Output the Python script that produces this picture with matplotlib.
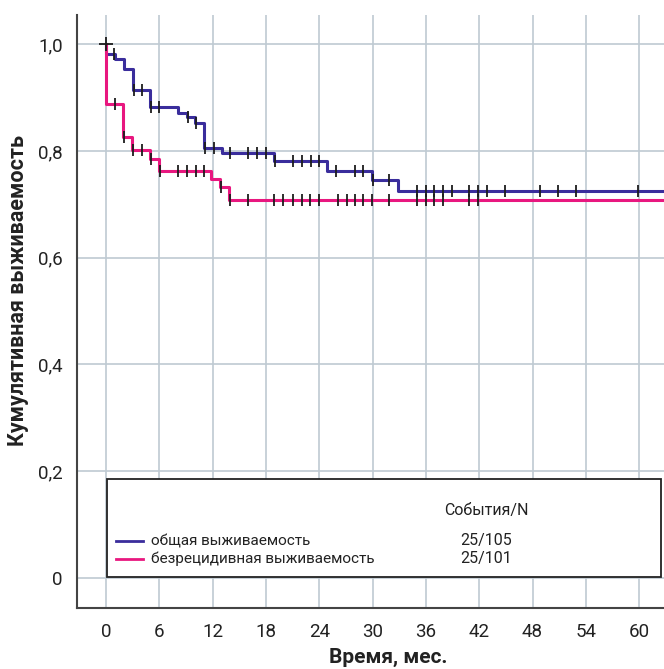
import numpy as np
import matplotlib.pyplot as plt
from matplotlib.patches import Rectangle
from matplotlib.lines import Line2D

plt.rcParams['font.family'] = ['Roboto', 'DejaVu Sans']

# overall survival: event times (months) and survival after each event
os_times = [0.0, 1.0, 2.0, 3.05, 4.95, 8.1, 9.15, 10.05, 11.05, 13.0, 18.9, 24.9, 29.9, 32.9]
os_surv = [0.981, 0.972, 0.953, 0.914, 0.883, 0.872, 0.863, 0.852, 0.805, 0.796, 0.781, 0.763, 0.746, 0.725]
os_cens = [0.9, 3.15, 4.0, 5.05, 6.0, 9.25, 10.15, 11.15, 12.1, 13.9, 16.0, 17.0, 18.0,
           19.0, 21.1, 22.1, 23.1, 24.0, 25.9, 28.0, 28.9, 30.0, 31.9, 35.0, 36.0, 36.9,
           37.9, 38.9, 40.9, 41.9, 42.9, 44.9, 48.9, 50.9, 52.9, 59.9]

# relapse-free survival
rfs_times = [0.0, 1.9, 2.9, 5.0, 6.0, 11.8, 12.8, 13.8]
rfs_surv = [0.889, 0.827, 0.802, 0.786, 0.762, 0.747, 0.733, 0.708]
rfs_cens = [1.0, 2.0, 3.0, 4.0, 5.05, 6.1, 8.1, 9.1, 10.1, 11.05, 12.9, 13.9, 16.0,
            18.9, 19.9, 21.0, 22.1, 23.0, 24.0, 26.1, 27.1, 28.0, 28.9, 29.9, 31.9,
            35.0, 36.0, 36.9, 37.9, 40.9, 41.9]

x_end = 63
x_ticks = list(range(0, 61, 6))
y_ticks = [0, 0.2, 0.4, 0.6, 0.8, 1.0]
y_labels = ['0', '0,2', '0,4', '0,6', '0,8', '1,0']

legend_names = ['общая выживаемость', 'безрецидивная выживаемость']
legend_counts = ['25/105', '25/101']
legend_header = 'События/N'

blue = '#3a2d9c'
pink = '#e8177f'
ink = '#222222'

W, H = 664, 669


def px(x, y):
    return x / W, 1 - y / H


def km_curve(times, surv):
    xs = np.r_[0.0, times, x_end]
    ys = np.r_[1.0, surv, surv[-1]]
    return xs, ys


def value_at(times, surv, t):
    i = np.searchsorted(times, t, side='right')
    return np.r_[1.0, surv][i]


fig = plt.figure(figsize=(W / 100, H / 100), dpi=100)
ax = fig.add_axes([76.7 / W, 1 - 607.7 / H, (W - 76.7) / W, (607.7 - 15) / H])

for times, surv, cens, col in [(os_times, os_surv, os_cens, blue),
                               (rfs_times, rfs_surv, rfs_cens, pink)]:
    xs, ys = km_curve(times, surv)
    ax.plot(xs, ys, drawstyle='steps-post', color=col, lw=2.2, zorder=3)
    cy = [value_at(times, surv, t) for t in cens]
    ax.plot(cens, cy, ls='none', marker='|', ms=8, mew=1.3, color='#1c1c1c', zorder=4)

ax.plot([0], [1.0], ls='none', marker='+', ms=10, mew=1.3, color='#1c1c1c', zorder=4)

ax.set_xlim(-3.3, 62.8)
ax.set_ylim(-0.056, 1.055)
ax.set_xticks(x_ticks)
ax.set_yticks(y_ticks)
ax.set_yticklabels(y_labels)
ax.grid(True, color='#bfcad2', lw=1.2)
ax.set_axisbelow(True)
ax.tick_params(length=0, labelsize=13.5, colors=ink)
ax.tick_params(axis='x', pad=11)
ax.tick_params(axis='y', pad=10)
for s in ['top', 'right']:
    ax.spines[s].set_visible(False)
for s in ['left', 'bottom']:
    ax.spines[s].set_color('#444444')
    ax.spines[s].set_linewidth(1.5)

fig.text(*px(388, 657), 'Время, мес.', ha='center', va='center',
         fontsize=15, fontweight='bold', color=ink)
fig.text(*px(18, 291), 'Кумулятивная выживаемость', ha='center', va='center',
         rotation=90, fontsize=15.5, fontweight='bold', color=ink)

# legend box
x0, y0 = px(106.7, 577)
x1, y1 = px(661, 479)
ax.add_patch(Rectangle((x0, y0), x1 - x0, y1 - y0, transform=fig.transFigure,
                       facecolor='white', edgecolor=ink, lw=1.3, zorder=6,
                       clip_on=False))
fig.text(*px(486, 511), legend_header, ha='center', va='center', fontsize=11.5, color=ink, zorder=7)
for i, (name, cnt, col) in enumerate(zip(legend_names, legend_counts, [blue, pink])):
    yy = 541 + i * 17.5
    lx0, ly = px(116, yy)
    lx1, _ = px(143, yy)
    fig.add_artist(Line2D([lx0, lx1], [ly, ly], color=col, lw=2.0, transform=fig.transFigure, zorder=7))
    fig.text(*px(151, yy), name, ha='left', va='center', fontsize=11, color=ink, zorder=7)
    fig.text(*px(486, yy), cnt, ha='center', va='center', fontsize=11.5, color=ink, zorder=7)

fig.savefig('out.png', dpi=100)
